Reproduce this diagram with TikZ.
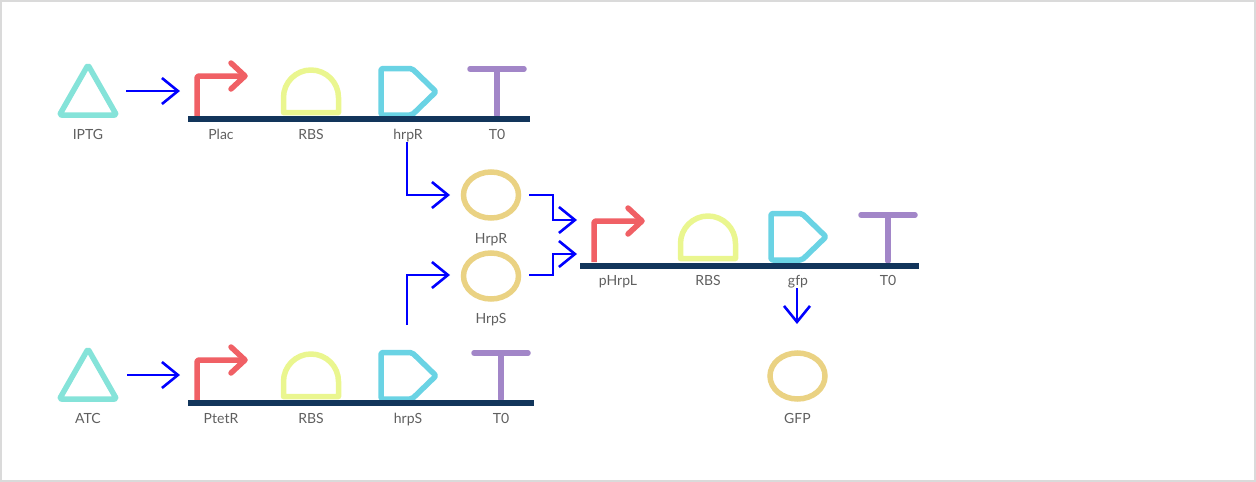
\documentclass[tikz,border=0pt]{standalone}
\usepackage{fontspec}
\setmainfont{Lato}
\usetikzlibrary{arrows.meta,shapes.geometric}
\definecolor{cTri}{HTML}{85E3D9}
\definecolor{cPro}{HTML}{F06065}
\definecolor{cRbs}{HTML}{EAF68F}
\definecolor{cCds}{HTML}{6AD3E4}
\definecolor{cTer}{HTML}{A286C8}
\definecolor{cPrt}{HTML}{EAD283}
\definecolor{cBack}{HTML}{12355B}
\definecolor{cText}{HTML}{5F5F5F}
\definecolor{cFrame}{HTML}{DADADA}
\tikzset{
  lbl/.style={font=\fontsize{14}{16}\selectfont,text=cText,inner sep=0pt,anchor=base},
  glyph/.style={line width=5.5pt,line join=round,line cap=round},
  backbone/.style={draw=cBack,line width=6pt},
  conn/.style={draw=blue,line width=2pt,-{Straight Barb[length=16pt,width=26pt,line width=2.6pt]}},
  protein/.style={ellipse,draw=cPrt,line width=5.5pt,minimum width=55pt,minimum height=46pt,inner sep=0pt}
}
\newcommand{\inducer}[2]{\draw[glyph,cTri,rounded corners=2pt] (#1-28.5,#2) -- (#1+28.5,#2) -- (#1,#2-50) -- cycle;}
\newcommand{\promo}[3]{\draw[glyph,cPro,line cap=butt,rounded corners=2pt] (#1,#2) -- (#1,#3) -- (#1+48,#3);
  \draw[glyph,cPro] (#1+34,#3-13) -- (#1+48,#3) -- (#1+34,#3+13);}
\newcommand{\rbsglyph}[3]{\draw[glyph,cRbs] (#1-27.5,#2) -- (#1+27.5,#2) -- (#1+27.5,#3+27.5) arc[start angle=0,end angle=180,x radius=27.5,y radius=-27.5] -- cycle;}
\newcommand{\cds}[3]{\draw[glyph,cCds,rounded corners=2pt] (#1,#2) -- (#1,#3) -- (#1+31,#3) -- (#1+55,{(#2+#3)/2}) -- (#1+31,#2) -- cycle;}
\newcommand{\term}[3]{\draw[glyph,cTer] (#1,#2) -- (#1,#3); \draw[glyph,cTer] (#1-27,#3) -- (#1+27,#3);}
\begin{document}
\begin{tikzpicture}[x=1pt,y=-1pt]
\useasboundingbox (0,0) rectangle (1256,482);
\draw[cFrame,line width=2pt] (1,1) rectangle (1255,481);

% device 1
\inducer{88}{115}
\promo{197}{116}{76}
\rbsglyph{311}{112.5}{70}
\cds{381}{115}{68.5}
\term{497}{115}{69}
\draw[backbone] (188,119) -- (530,119);
\node[lbl] (lIPTG) at (88,139.5) {IPTG};
\node[lbl] (lPlac) at (221,139.5) {Plac};
\node[lbl] (lRBSa) at (311,139.5) {RBS};
\node[lbl] (lhrpR) at (408,139.5) {hrpR};
\node[lbl] (lT0a) at (497,139.5) {T0};

% device 2
\inducer{88}{399}
\promo{197}{400}{360}
\rbsglyph{311}{396.5}{354}
\cds{381}{399}{352.5}
\term{501}{399}{353}
\draw[backbone] (188,403) -- (534,403);
\node[lbl] (lATC) at (88,423.5) {ATC};
\node[lbl] (lPtetR) at (221,423.5) {PtetR};
\node[lbl] (lRBSb) at (311,423.5) {RBS};
\node[lbl] (lhrpS) at (408,423.5) {hrpS};
\node[lbl] (lT0b) at (501,423.5) {T0};

% device 3
\promo{594}{262}{221}
\rbsglyph{708}{258.5}{216}
\cds{771}{260}{213.5}
\term{888}{261}{215}
\draw[backbone] (580,266) -- (919,266);
\node[lbl] (lpHrpL) at (618,285.5) {pHrpL};
\node[lbl] (lRBSc) at (708,285.5) {RBS};
\node[lbl] (lgfp) at (798,285.5) {gfp};
\node[lbl] (lT0c) at (888,285.5) {T0};

% proteins
\node[protein] (HrpR) at (491,195) {};
\node[protein] (HrpS) at (491,276) {};
\node[protein] (GFP) at (797.5,376) {};
\node[lbl] (lHrpR) at (491,243) {HrpR};
\node[lbl] (lHrpS) at (491,323) {HrpS};
\node[lbl] (lGFP) at (797.5,423) {GFP};

% connector ends
\coordinate (iptgOut) at (126,91);
\coordinate (placIn) at (180,91);
\coordinate (atcOut) at (127,375);
\coordinate (ptetIn) at (180,375);
\coordinate (hrpROut) at (407,142);
\coordinate (HrpRIn) at (450,195);
\coordinate (hrpSOut) at (407,325);
\coordinate (HrpSIn) at (450,275);
\coordinate (HrpROut) at (529,195);
\coordinate (HrpSOut) at (529,275);
\coordinate (pInA) at (577,220);
\coordinate (pInB) at (577,254);
\coordinate (gfpOut) at (797,288);
\coordinate (GFPIn) at (797,324);

\draw[conn] (iptgOut) -- (placIn);
\draw[conn] (atcOut) -- (ptetIn);
\draw[conn] (hrpROut) |- (HrpRIn);
\draw[conn] (hrpSOut) |- (HrpSIn);
\draw[conn] (HrpROut) -| (553,220) -- (pInA);
\draw[conn] (HrpSOut) -| (553,254) -- (pInB);
\draw[conn] (gfpOut) -- (GFPIn);
\end{tikzpicture}
\end{document}
